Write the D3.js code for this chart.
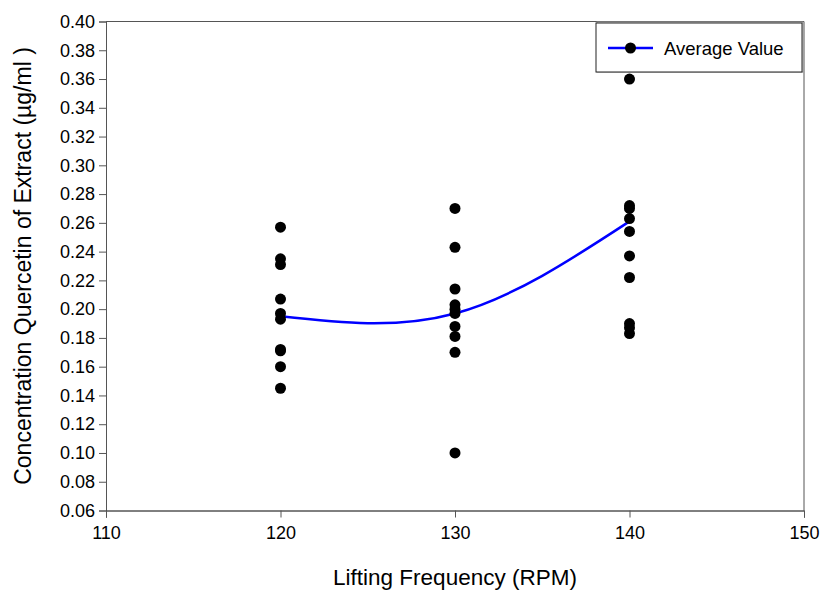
<!DOCTYPE html>
<html>
<head>
<meta charset="utf-8">
<script src="https://cdn.jsdelivr.net/npm/d3@7/dist/d3.min.js"></script>
<style>
  html, body { margin: 0; padding: 0; background: #fff; }
  svg { display: block; font-family: "Liberation Sans", Arial, sans-serif; }
</style>
</head>
<body>
<svg id="chart" width="822" height="592"></svg>
<script>
// Lifting frequency levels (RPM)
const rpmLevels = [120, 130, 140];

// Measured quercetin concentration (µg/ml) at each lifting frequency
const conc120 = [0.257, 0.235, 0.231, 0.207, 0.197, 0.193, 0.172, 0.171, 0.160, 0.145];
const conc130 = [0.270, 0.243, 0.214, 0.203, 0.200, 0.197, 0.188, 0.181, 0.170, 0.100];
const conc140 = [0.360, 0.272, 0.270, 0.263, 0.254, 0.237, 0.222, 0.190, 0.187, 0.183];

// Average value curve
const averageValues = [0.195, 0.197, 0.261];

// Axis ticks
const xTicks = [110, 120, 130, 140, 150];
const yTicks = d3.range(0.06, 0.4001, 0.02);

const svg = d3.select("#chart");
const W = 822, H = 592;
const margin = { left: 106, right: W - 804, top: 21.5, bottom: H - 510.5 };

const x = d3.scaleLinear().domain([110, 150]).range([margin.left, W - margin.right]);
const y = d3.scaleLinear().domain([0.06, 0.40]).range([H - margin.bottom, margin.top]);

// Frame (top and right)
svg.append("line")
  .attr("x1", x(110)).attr("x2", x(150)).attr("y1", y(0.40)).attr("y2", y(0.40))
  .attr("stroke", "#555").attr("stroke-width", 1);
svg.append("line")
  .attr("x1", x(150)).attr("x2", x(150)).attr("y1", y(0.40)).attr("y2", y(0.06))
  .attr("stroke", "#555").attr("stroke-width", 1);

// Y axis
const yAxis = svg.append("g")
  .attr("transform", `translate(${x(110)},0)`)
  .call(d3.axisLeft(y).tickValues(yTicks).tickFormat(d3.format(".2f")).tickSizeOuter(0).tickSize(7).tickPadding(4));
yAxis.select(".domain").attr("stroke", "#555");
yAxis.selectAll(".tick line").attr("stroke", "#555");
yAxis.selectAll("text").attr("font-size", 18).attr("fill", "#000")
  .attr("font-family", "'Liberation Sans', Arial, sans-serif");

// X axis
const xAxis = svg.append("g")
  .attr("transform", `translate(0,${y(0.06)})`)
  .call(d3.axisBottom(x).tickValues(xTicks).tickFormat(d3.format("d")).tickSizeOuter(0).tickSize(7).tickPadding(9));
xAxis.select(".domain").attr("stroke", "#000");
xAxis.selectAll(".tick line").attr("stroke", "#555");
xAxis.selectAll("text").attr("font-size", 18).attr("fill", "#000")
  .attr("font-family", "'Liberation Sans', Arial, sans-serif");

// Axis titles
svg.append("text")
  .attr("x", x(130)).attr("y", 585)
  .attr("text-anchor", "middle")
  .attr("font-size", 22.5)
  .text("Lifting Frequency (RPM)");

svg.append("text")
  .attr("transform", `translate(31,${(y(0.40) + y(0.06)) / 2}) rotate(-90)`)
  .attr("text-anchor", "middle")
  .attr("font-size", 23)
  .text("Concentration Quercetin of Extract (µg/ml )");

// Average value curve
const avgPoints = rpmLevels.map((r, i) => [r, averageValues[i]]);
svg.append("path")
  .datum(avgPoints)
  .attr("fill", "none")
  .attr("stroke", "#0000ff")
  .attr("stroke-width", 2.5)
  .attr("d", d3.line().x(d => x(d[0])).y(d => y(d[1])).curve(d3.curveNatural));

// Scatter points
const groups = [conc120, conc130, conc140];
const pts = [];
groups.forEach((vals, i) => vals.forEach(v => pts.push({ rpm: rpmLevels[i], v })));
svg.append("g").selectAll("circle")
  .data(pts)
  .join("circle")
  .attr("cx", d => x(d.rpm))
  .attr("cy", d => y(d.v))
  .attr("r", 5.5)
  .attr("fill", "#000");

// Legend
const lg = svg.append("g");
lg.append("rect")
  .attr("x", 597).attr("y", 22).attr("width", 206).attr("height", 50)
  .attr("fill", "none").attr("stroke", "#999").attr("stroke-width", 1);
lg.append("rect")
  .attr("x", 596).attr("y", 23).attr("width", 206).attr("height", 49)
  .attr("fill", "#fff").attr("stroke", "#222").attr("stroke-width", 1);
lg.append("line")
  .attr("x1", 608).attr("x2", 653).attr("y1", 48).attr("y2", 48)
  .attr("stroke", "#0000ff").attr("stroke-width", 2.5);
lg.append("circle").attr("cx", 630.5).attr("cy", 48).attr("r", 5.5).attr("fill", "#000");
lg.append("text")
  .attr("x", 664).attr("y", 54.5)
  .attr("font-size", 18.5)
  .text("Average Value");
</script>
</body>
</html>
